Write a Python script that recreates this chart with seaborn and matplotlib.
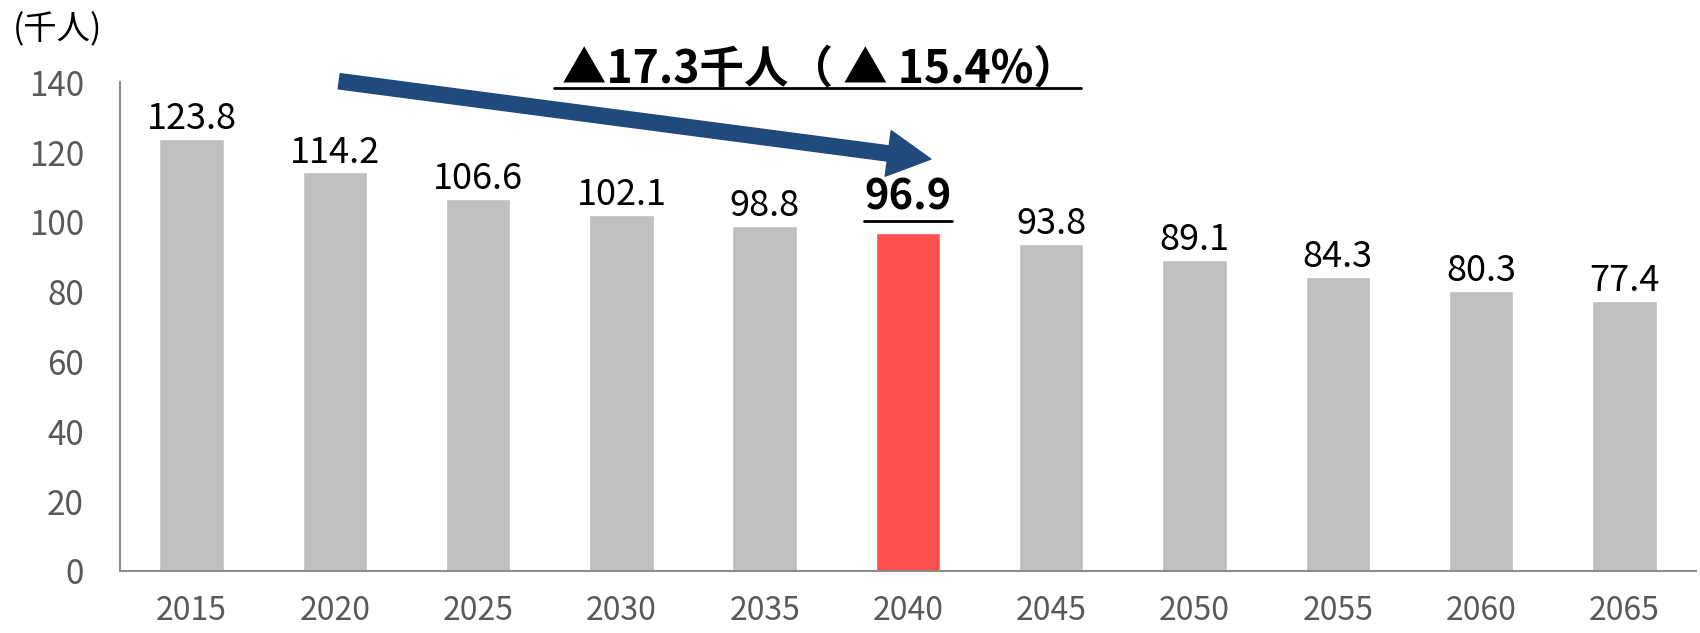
import seaborn as sns
import matplotlib.pyplot as plt
import pandas as pd
from matplotlib.lines import Line2D

years = ["2015", "2020", "2025", "2030", "2035", "2040", "2045", "2050", "2055", "2060", "2065"]
population = [123.8, 114.2, 106.6, 102.1, 98.8, 96.9, 93.8, 89.1, 84.3, 80.3, 77.4]
highlight_year = "2040"
bar_colors = ["#ff5050" if y == highlight_year else "#bfbfbf" for y in years]
unit_label = "(千人)"
change_label = "▲17.3千人（ ▲ 15.4%）"

sns.set_style("white")
plt.rcParams['font.family'] = ['Noto Sans CJK JP', 'DejaVu Sans']
plt.rcParams['text.color'] = "black"

W, H = 1700, 633
df = pd.DataFrame({"year": years, "pop": population})

fig = plt.figure(figsize=(W / 100, H / 100), dpi=100)
ax = fig.add_axes([0.0706, 0.098, 0.927, 0.772])
sns.barplot(data=df, x="year", y="pop", hue="year", palette=bar_colors,
            legend=False, width=0.45, saturation=1, ax=ax)

ax.set_ylim(0, 140)
ax.set_yticks(range(0, 141, 20))
ax.set_xlim(-0.5, len(years) - 0.5)
ax.set_xlabel("")
ax.set_ylabel("")
ax.tick_params(axis="both", length=0, labelsize=24, labelcolor="#595959")
ax.tick_params(axis="y", pad=26)
ax.tick_params(axis="x", labelsize=23, pad=17)
for side in ["top", "right"]:
    ax.spines[side].set_visible(False)
for side in ["left", "bottom"]:
    ax.spines[side].set_color("#8c8c8c")
    ax.spines[side].set_linewidth(1.5)

# value labels
hl_offset = 17
for i, (y, v) in enumerate(zip(years, population)):
    if y == highlight_year:
        hl_label = ax.annotate(f"{v:.1f}", (i, v), xytext=(0, hl_offset), textcoords="offset points",
                               ha="center", va="baseline", fontsize=30, fontweight="bold")
        hl_pos = (i, v)
    else:
        ax.annotate(f"{v:.1f}", (i, v), xytext=(0, 7), textcoords="offset points",
                    ha="center", va="baseline", fontsize=26)

# arrow showing the decline to 2040
ax.annotate("", xy=(5.16, 118), xytext=(1.03, 140.3),
            arrowprops=dict(arrowstyle="simple,head_length=31,head_width=33,tail_width=11",
                            color="#204a7c", mutation_scale=1, shrinkA=0, shrinkB=0),
            annotation_clip=False)

fig.text(13 / W, 1 - 30 / H, unit_label, fontsize=24, ha="left", va="center")
title_base = H - 83
title = fig.text(820 / W, title_base / H, change_label, fontsize=32, fontweight="bold",
                 ha="center", va="baseline")

# underline the emphasised texts
fig.canvas.draw()
r = fig.canvas.get_renderer()
bb = title.get_window_extent(r)
yl = title_base - 5
fig.add_artist(Line2D([(bb.x0 - 8) / W, (bb.x1 + 3) / W], [yl / H, yl / H],
                      transform=fig.transFigure, color="black", lw=2))

bb = hl_label.get_window_extent(r)
base = ax.transData.transform(hl_pos)[1] + hl_offset * 100 / 72
yl = base - 12
fig.add_artist(Line2D([bb.x0 / W, bb.x1 / W], [yl / H, yl / H],
                      transform=fig.transFigure, color="black", lw=2))

fig.savefig("out.png", dpi=100)
